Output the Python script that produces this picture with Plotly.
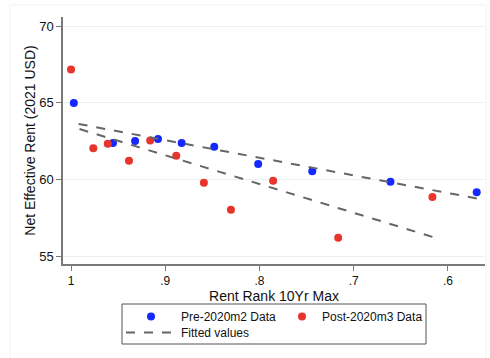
import numpy as np
import plotly.graph_objects as go

# Data
pre_x = [0.997, 0.9555, 0.932, 0.9077, 0.8826, 0.848, 0.8014, 0.744, 0.661, 0.5695]
pre_y = [64.98, 62.37, 62.50, 62.63, 62.37, 62.13, 61.00, 60.52, 59.84, 59.15]
post_x = [1.0, 0.9763, 0.961, 0.9385, 0.916, 0.8883, 0.859, 0.8303, 0.7855, 0.7165, 0.6165]
post_y = [67.17, 62.02, 62.32, 61.21, 62.53, 61.54, 59.78, 58.02, 59.91, 56.19, 58.85]

x_ticks = [1, 0.9, 0.8, 0.7, 0.6]
x_ticktext = ["1", ".9", ".8", ".7", ".6"]
y_ticks = [55, 60, 65, 70]

BLUE = "#1428FF"
RED = "#E8352B"
FIT = "#666666"
FONT = "Liberation Sans, Arial, sans-serif"

# plot area geometry (px)
PL, PR, PT, PB = 63, 5, 17, 94
W, H = 490, 358
PW, PH = W - PL - PR, H - PT - PB


def px_x(x):
    return (x - PL) / PW


def px_y(y):
    return (H - PB - y) / PH


def fit_line(xs, ys):
    xs = np.asarray(xs)
    ys = np.asarray(ys)
    b, a = np.polyfit(xs, ys, 1)
    xx = np.array([xs.min(), xs.max()])
    return xx, a + b * xx


fig = go.Figure()
fig.add_trace(go.Scatter(x=pre_x, y=pre_y, mode="markers", name="Pre-2020m2 Data",
                         legend="legend",
                         marker=dict(color=BLUE, size=8, line=dict(width=0))))
fig.add_trace(go.Scatter(x=post_x, y=post_y, mode="markers", name="Post-2020m3 Data",
                         legend="legend2",
                         marker=dict(color=RED, size=8, line=dict(width=0))))
fx, fy = fit_line(pre_x, pre_y)
fig.add_trace(go.Scatter(x=fx, y=fy, mode="lines", name="Fitted values",
                         legend="legend3",
                         line=dict(color=FIT, width=2, dash="dash")))
fx2, fy2 = fit_line(post_x, post_y)
fig.add_trace(go.Scatter(x=fx2, y=fy2, mode="lines", name="Fitted values", showlegend=False,
                         line=dict(color=FIT, width=2, dash="dash")))

leg_common = dict(orientation="v", xanchor="left", yanchor="top", borderwidth=0,
                  bgcolor="rgba(0,0,0,0)", font=dict(size=12), tracegroupgap=0)

fig.update_layout(
    width=W, height=H,
    margin=dict(l=PL, r=PR, t=PT, b=PB),
    paper_bgcolor="white", plot_bgcolor="white",
    font=dict(family=FONT, size=12, color="#111"),
    showlegend=True,
    legend=dict(x=px_x(121), y=px_y(302), itemwidth=50, **leg_common),
    legend2=dict(x=px_x(282), y=px_y(302), itemwidth=30, **leg_common),
    legend3=dict(x=px_x(121), y=px_y(318), itemwidth=50, **leg_common),
    shapes=[
        dict(type="rect", xref="paper", yref="paper",
             x0=px_x(10), x1=px_x(486), y0=px_y(H + 2), y1=px_y(5),
             line=dict(color="#F0F3F3", width=1), layer="below"),
        dict(type="rect", xref="paper", yref="paper",
             x0=px_x(122), x1=px_x(426), y0=px_y(344), y1=px_y(304),
             line=dict(color="#555555", width=1), layer="above"),
    ],
)
fig.update_xaxes(range=[1.0085, 0.5607], tickvals=x_ticks, ticktext=x_ticktext,
                 showline=True, linecolor="#7a7a7a", linewidth=1.5, mirror=False,
                 ticks="outside", ticklen=5, tickcolor="#7a7a7a", tickwidth=1,
                 showgrid=False, zeroline=False,
                 title=dict(text="Rent Rank 10Yr Max", standoff=0),
                 tickfont=dict(size=12))
fig.update_yaxes(range=[54.478, 70.587], tickvals=y_ticks,
                 showline=True, linecolor="#7a7a7a", linewidth=1.5, mirror=False,
                 ticks="outside", ticklen=5, tickcolor="#7a7a7a", tickwidth=1,
                 showgrid=True, gridcolor="#E8F0F1", gridwidth=1, zeroline=False,
                 title=dict(text="Net Effective Rent (2021 USD)", standoff=0),
                 tickfont=dict(size=13))

fig.write_html("out.html")
